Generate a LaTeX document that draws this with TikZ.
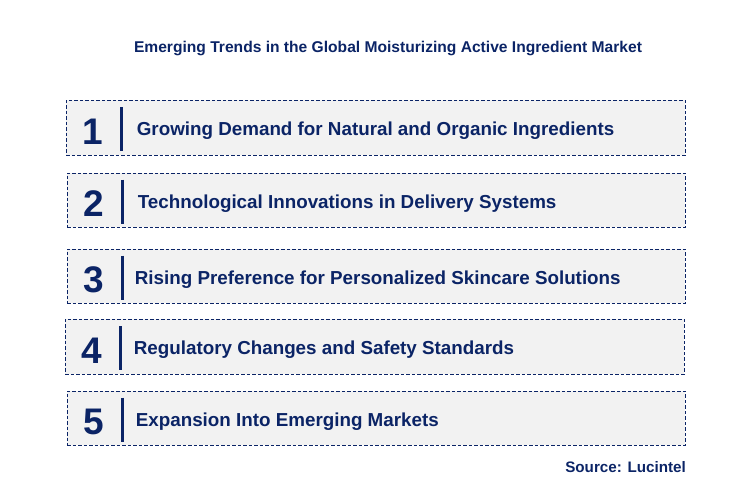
\documentclass[tikz,border=0pt]{standalone}
\usepackage{fontspec}
\setmainfont{Liberation Sans}
\usetikzlibrary{calc}
\definecolor{navy}{HTML}{0B2466}
\definecolor{boxgray}{HTML}{F2F2F2}
\newcommand{\TREND}[5]{
  \node[trendbox, minimum width=#2-#1, minimum height=#4-#3] (box#5) at ({(#1+#2)/2},{(#3+#4)/2}) {};
  \node[trendnum] (num#5) at ($(box#5.west)+(27.5,4)$) {#5};
  \draw[navy, line width=3.5pt] ($(box#5.west)+(56,-20.5)$) -- ($(box#5.west)+(56,23.5)$);
}
\tikzset{
  trendbox/.style={draw=navy, fill=boxgray, dashed, dash pattern=on 3.5pt off 2pt, line width=0.7pt, inner sep=0pt},
  trendnum/.style={text=navy, font=\fontsize{37}{40}\bfseries\selectfont},
  trendtxt/.style={text=navy, font=\fontsize{18.8}{22}\bfseries\selectfont, anchor=west, inner sep=0pt},
}
\begin{document}
\begin{tikzpicture}[x=1pt, y=-1pt]
  \useasboundingbox (0,0) rectangle (729,498);
  \node[text=navy, font=\fontsize{15.6}{18}\bfseries\selectfont] (title) at (388,48) {Emerging Trends in the Global Moisturizing Active Ingredient Market};

  \TREND{66}{685}{100}{155}{1}
  \node[trendtxt] (txt1) at ($(box1.west)+(71,3.5)$) {Growing Demand for Natural and Organic Ingredients};
  \TREND{67}{685}{173}{227}{2}
  \node[trendtxt] (txt2) at ($(box2.west)+(71,3.5)$) {Technological Innovations in Delivery Systems};
  \TREND{67}{685}{249}{303}{3}
  \node[trendtxt] (txt3) at ($(box3.west)+(68,3.5)$) {Rising Preference for Personalized Skincare Solutions};
  \TREND{65}{684}{319}{374}{4}
  \node[trendtxt] (txt4) at ($(box4.west)+(69,3.5)$) {Regulatory Changes and Safety Standards};
  \TREND{67}{685}{391}{445}{5}
  \node[trendtxt] (txt5) at ($(box5.west)+(69,3.5)$) {Expansion Into Emerging Markets};

  \node[text=navy, font=\fontsize{15.2}{18}\bfseries\selectfont, anchor=east, inner sep=0pt] (src) at (686,467) {Source: Lucintel};
\end{tikzpicture}
\end{document}
